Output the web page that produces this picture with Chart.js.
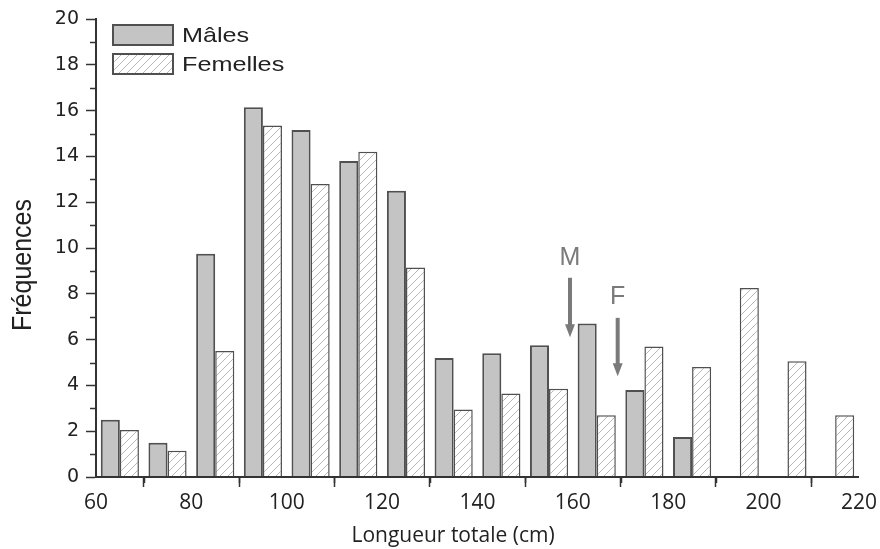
<!DOCTYPE html>
<html><head><meta charset="utf-8">
<script src="https://cdn.jsdelivr.net/npm/chart.js@4/dist/chart.umd.min.js"></script>
<style>html,body{margin:0;padding:0;background:#fff}</style>
</head><body>
<canvas id="c" width="880" height="549"></canvas>
<script>
const binCenters = [65,75,85,95,105,115,125,135,145,155,165,175,185,195,205,215];
const males =   [2.5,1.5,9.75,16.15,15.15,13.8,12.5,5.2,5.4,5.75,6.7,3.8,1.75,null,null,null];
const females = [2.05,1.15,5.5,15.35,12.8,14.2,9.15,2.95,3.65,3.85,2.7,5.7,4.8,8.25,5.05,2.7];
const seriesNames = ['Mâles','Femelles'];
const markerLabels = ['M','F'];
const markerX = [159.4, 169.4];
const markerLabelY = [9.57, 7.87];
const markerTop = [8.7, 6.95];
const markerBottom = [6.1, 4.4];
const xTitle = 'Longueur totale (cm)';
const yTitle = 'Fréquences';

function hatch(){
  const t = document.createElement('canvas');
  t.width = 8; t.height = 8;
  const g = t.getContext('2d');
  g.fillStyle = '#fff'; g.fillRect(0,0,8,8);
  g.strokeStyle = '#b8b8b8'; g.lineWidth = 1;
  g.beginPath();
  g.moveTo(-1,9); g.lineTo(9,-1);
  g.moveTo(-1,1); g.lineTo(1,-1);
  g.moveTo(7,9); g.lineTo(9,7);
  g.stroke();
  return g.createPattern(t,'repeat');
}
const ctx = document.getElementById('c').getContext('2d');
const pat = hatch();
const maleFill = '#c4c4c4';
const edge = '#505050';
const toPoints = arr => binCenters.map((b,i)=>({x:b,y:arr[i]})).filter(p=>p.y!==null);

const extras = {
  id:'extras',
  afterDraw(chart){
    const c = chart.ctx, xs = chart.scales.x, ys = chart.scales.y;
    c.save();
    // minor ticks
    c.strokeStyle = '#333'; c.lineWidth = 1.5;
    for (let v = 1; v < 20; v += 2){
      const p = Math.round(ys.getPixelForValue(v)) + 0.5;
      c.beginPath(); c.moveTo(xs.left-6, p); c.lineTo(xs.left, p); c.stroke();
    }
    for (let v = 70; v < 220; v += 20){
      const p = Math.round(xs.getPixelForValue(v)) + 0.5;
      c.beginPath(); c.moveTo(p, ys.bottom); c.lineTo(p, ys.bottom+6); c.stroke();
    }
    // axis titles
    c.fillStyle = '#222';
    c.textAlign = 'center'; c.textBaseline = 'middle';
    c.font = '21px "Open Sans", sans-serif';
    c.fillText(xTitle, 453, 536);
    c.save();
    c.translate(22, 265); c.rotate(-Math.PI/2); c.scale(1, 1.12);
    c.font = '25px "Liberation Sans", Arial, sans-serif';
    c.fillText(yTitle, 0, 1);
    c.restore();
    // legend
    const items = [{fill:maleFill},{fill:pat}];
    const lx = 113, ly = [25, 54], bw = 60, bh = 20;
    items.forEach((it,i)=>{
      c.fillStyle = it.fill; c.fillRect(lx, ly[i], bw, bh);
      c.strokeStyle = edge; c.lineWidth = 2; c.strokeRect(lx, ly[i], bw, bh);
      c.save();
      c.translate(lx+bw+9, ly[i]+bh/2+1); c.scale(1.2, 1);
      c.font = '21px "Liberation Sans", Arial, sans-serif';
      c.textAlign = 'left'; c.textBaseline = 'middle';
      c.fillStyle = '#222'; c.fillText(seriesNames[i], 0, 0);
      c.restore();
    });
    // arrows
    c.fillStyle = '#7a7a7a'; c.strokeStyle = '#7a7a7a';
    c.font = '25px "Liberation Sans", Arial, sans-serif';
    c.textAlign = 'center'; c.textBaseline = 'middle';
    markerLabels.forEach((lab,i)=>{
      const x = xs.getPixelForValue(markerX[i]);
      const yl = ys.getPixelForValue(markerLabelY[i]);
      const y0 = ys.getPixelForValue(markerTop[i]);
      const y1 = ys.getPixelForValue(markerBottom[i]);
      c.fillText(lab, x, yl);
      c.lineWidth = 4;
      c.beginPath(); c.moveTo(x, y0); c.lineTo(x, y1-10); c.stroke();
      c.beginPath(); c.moveTo(x-5, y1-13); c.lineTo(x+5, y1-13); c.lineTo(x, y1); c.closePath(); c.fill();
    });
    c.restore();
  }
};

new Chart(ctx, {
  type:'bar',
  data:{
    datasets:[
      {label:seriesNames[0], data:toPoints(males),
       backgroundColor:maleFill, borderColor:edge, borderWidth:2, borderSkipped:'bottom'},
      {label:seriesNames[1], data:toPoints(females),
       backgroundColor:pat, borderColor:edge, borderWidth:1.5, borderSkipped:'bottom'}
    ]
  },
  options:{
    responsive:false, devicePixelRatio:1, animation:false,
    categoryPercentage:0.8, barPercentage:1.0,
    layout:{padding:{left:0, top:19, right:21, bottom:0}},
    plugins:{legend:{display:false}, tooltip:{enabled:false}},
    scales:{
      x:{type:'linear', min:60, max:220, offset:false,
         afterFit(s){ s.height = 72; },
         border:{display:true, color:'#333', width:2, z:1},
         grid:{drawOnChartArea:false, drawTicks:true, tickLength:10, tickColor:'#333', tickWidth:1.5, z:1},
         ticks:{stepSize:20, padding:3, color:'#222', font:{family:'Open Sans', size:21}, maxRotation:0},
         title:{display:false}
      },
      y:{type:'linear', min:0, max:20,
         afterFit(s){ s.width = 96; },
         border:{display:true, color:'#333', width:2, z:1},
         grid:{drawOnChartArea:false, drawTicks:true, tickLength:10, tickColor:'#333', tickWidth:1.5, z:1},
         ticks:{stepSize:2, padding:7, color:'#222', font:{family:'DejaVu Sans', size:19}},
         title:{display:false}
      }
    }
  },
  plugins:[extras]
});
</script>
</body></html>
